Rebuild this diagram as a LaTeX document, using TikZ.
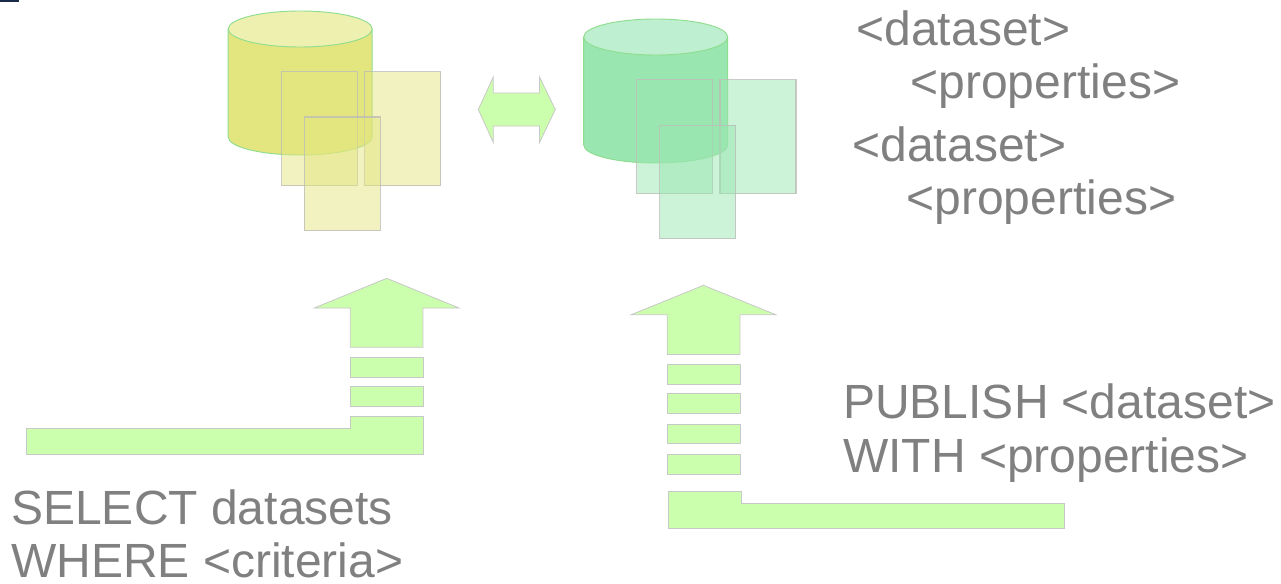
\documentclass[tikz,border=0pt]{standalone}
\usepackage{fontspec}
\setmainfont{Liberation Sans}
\tikzset{
  txt/.style={anchor=base west,inner sep=0pt,text=txtgray,font=\fontsize{36}{36}\selectfont},
  shapeg/.style={draw=edgegray,line width=0.6pt,fill=limeg,line join=miter},
  sheetY/.style={draw=sheetedge,line width=0.9pt,fill=bodyY,fill opacity=0.5,draw opacity=0.8},
  sheetG/.style={draw=sheetedge,line width=0.9pt,fill=bodyG,fill opacity=0.5,draw opacity=0.8},
}
\definecolor{txtgray}{HTML}{808080}
\definecolor{edgegray}{HTML}{C8C8C8}
\definecolor{sheetedge}{HTML}{BDBDB8}
\definecolor{limeg}{HTML}{CCFFAD}
\definecolor{bodyY}{HTML}{E3E57F}
\definecolor{topY}{HTML}{EEF0B0}
\definecolor{bodyG}{HTML}{99E6B0}
\definecolor{topG}{HTML}{BEEFD0}
\definecolor{cylEdge}{HTML}{8FDD8F}
\definecolor{navy}{HTML}{1A2B4A}
\begin{document}
\begin{tikzpicture}[x=0.75pt,y=-0.75pt]
\useasboundingbox (0,0) rectangle (1281,583);
\fill[navy] (0,0) rectangle (19,2);
% yellow cylinder
\draw[cylEdge,line width=0.7pt,fill=bodyY] (228.2,29) -- (228.2,137) arc[start angle=180,end angle=360,x radius=72,y radius=-18] -- (372.2,29) -- cycle;
\draw[cylEdge,line width=0.7pt,fill=topY] (300.2,29) ellipse[x radius=72,y radius=18];
\draw[sheetY] (281.5,71.5) rectangle (357.5,185.5);
\draw[sheetY] (364.5,71.5) rectangle (440.5,185.5);
\draw[sheetY] (304.3,117) rectangle (380.3,230.5);
% green cylinder
\draw[cylEdge,line width=0.7pt,fill=bodyG] (583.7,37) -- (583.7,145) arc[start angle=180,end angle=360,x radius=72,y radius=-18] -- (727.7,37) -- cycle;
\draw[cylEdge,line width=0.7pt,fill=topG] (655.7,37) ellipse[x radius=72,y radius=18];
\draw[sheetG] (636.7,79.5) rectangle (712.7,193.5);
\draw[sheetG] (720,79.5) rectangle (796,193.5);
\draw[sheetG] (659.5,125.2) rectangle (735.5,238.7);
% double arrow
\draw[shapeg] (478.3,109.5) -- (493.3,77) -- (493.3,93) -- (539.5,93) -- (539.5,77) -- (555.3,109.5) -- (539.5,142.5) -- (539.5,126) -- (493.3,126) -- (493.3,142.5) -- cycle;
% left up arrow
\draw[shapeg] (386.7,278.3) -- (459,308) -- (422.9,308) -- (422.9,347.3) -- (350.3,347.3) -- (350.3,308) -- (314.3,308) -- cycle;
\draw[shapeg] (350.3,357.3) rectangle (422.9,377.3);
\draw[shapeg] (350.3,386.5) rectangle (422.9,406.5);
\draw[shapeg] (26,428.5) -- (350.3,428.5) -- (350.3,416.3) -- (422.9,416.3) -- (422.9,454) -- (26,454) -- cycle;
% right up arrow
\draw[shapeg] (703.5,285.3) -- (775.7,314.7) -- (739.9,314.7) -- (739.9,354.5) -- (667.2,354.5) -- (667.2,314.7) -- (631.2,314.7) -- cycle;
\draw[shapeg] (667.2,364.3) rectangle (739.9,384);
\draw[shapeg] (667.2,393.5) rectangle (739.9,413.5);
\draw[shapeg] (667.2,424) rectangle (739.9,443.5);
\draw[shapeg] (667.2,454) rectangle (739.9,474);
\draw[shapeg] (668,491) -- (740.9,491) -- (740.9,503) -- (1064.8,503) -- (1064.8,528) -- (668,528) -- cycle;
% texts
\node[txt] (d1) at (856.3,45) {<dataset>};
\node[txt] (p1) at (910.3,98) {<properties>};
\node[txt] (d2) at (852.3,161) {<dataset>};
\node[txt] (p2) at (906.3,214) {<properties>};
\node[txt] (pub) at (843,418) {PUBLISH <dataset>};
\node[txt] (wit) at (843,472) {WITH <properties>};
\node[txt] (sel) at (11,524.6) {SELECT datasets};
\node[txt] (whe) at (11,577.4) {WHERE <criteria>};
\end{tikzpicture}
\end{document}
